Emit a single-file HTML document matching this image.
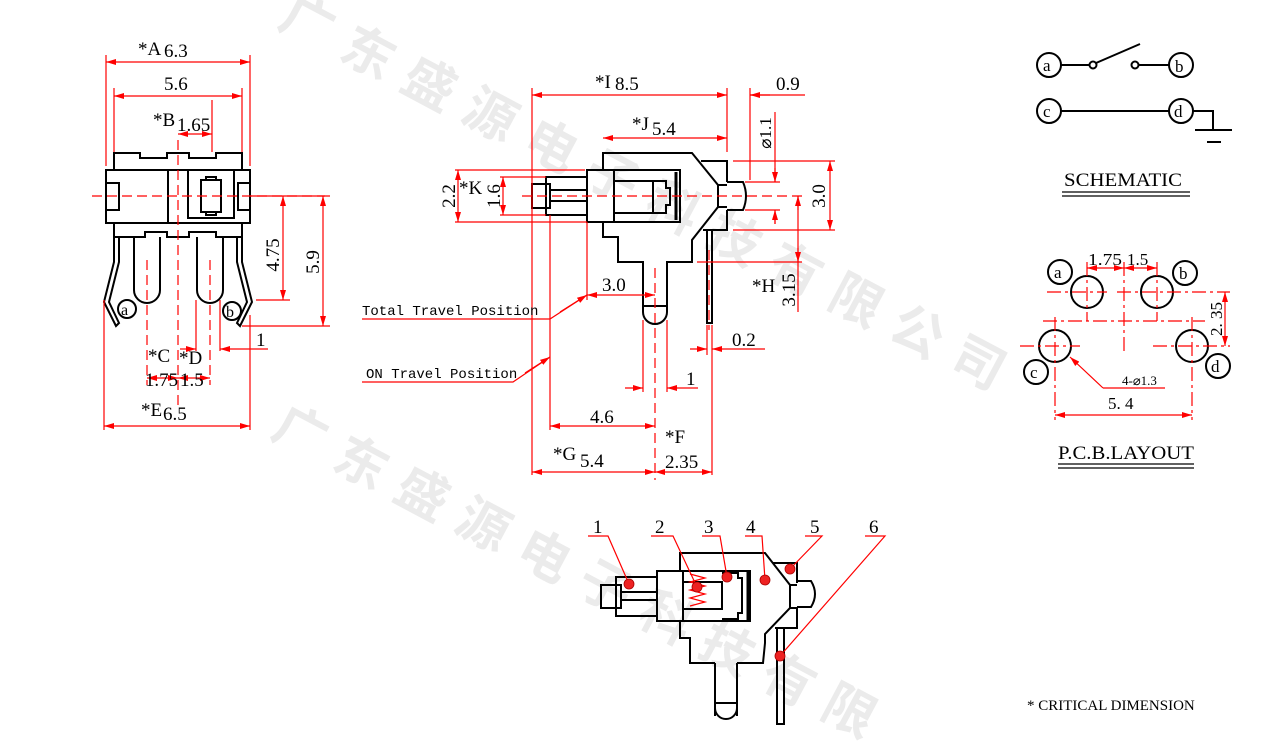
<!DOCTYPE html>
<html><head><meta charset="utf-8"><style>
html,body{margin:0;padding:0;background:#fff;width:1266px;height:744px;overflow:hidden;}
svg{display:block;}
.k{fill:none;stroke:#000;stroke-width:2;}
.r{fill:none;stroke:#f00;stroke-width:1.2;}
.dd{fill:none;stroke:#f00;stroke-width:1.2;stroke-dasharray:14 4 3 4;}
.ds{fill:none;stroke:#f00;stroke-width:1.2;stroke-dasharray:10 5;}
text{font-family:"Liberation Serif",serif;font-size:19px;fill:#000;}
.m{font-family:"Liberation Mono",monospace;font-size:14px;}
g.wm text{font-family:"Liberation Sans","Noto Sans CJK SC",sans-serif;font-size:52px;font-weight:bold;fill:#ebebeb;}
</style></head><body>
<svg width="1266" height="744" viewBox="0 0 1266 744" xmlns="http://www.w3.org/2000/svg">
<defs>
<marker id="a" viewBox="0 0 10 6" refX="10" refY="3" markerWidth="10" markerHeight="6" orient="auto-start-reverse" markerUnits="userSpaceOnUse"><path d="M0,0L10,3L0,6z" fill="#f00"/></marker>
</defs>
<g class="wm" text-anchor="middle">
<text transform="translate(299,38) rotate(28)">广</text>
<text transform="translate(360,69) rotate(28)">东</text>
<text transform="translate(421,100) rotate(28)">盛</text>
<text transform="translate(482,131) rotate(28)">源</text>
<text transform="translate(543,162) rotate(28)">电</text>
<text transform="translate(604,193) rotate(28)">子</text>
<text transform="translate(665,224) rotate(28)">科</text>
<text transform="translate(726,255) rotate(28)">技</text>
<text transform="translate(787,286) rotate(28)">有</text>
<text transform="translate(848,317) rotate(28)">限</text>
<text transform="translate(909,348) rotate(28)">公</text>
<text transform="translate(970,379) rotate(28)">司</text>
<text transform="translate(292,448) rotate(28)">广</text>
<text transform="translate(353,479) rotate(28)">东</text>
<text transform="translate(414,510) rotate(28)">盛</text>
<text transform="translate(475,541) rotate(28)">源</text>
<text transform="translate(536,572) rotate(28)">电</text>
<text transform="translate(597,603) rotate(28)">子</text>
<text transform="translate(658,634) rotate(28)">科</text>
<text transform="translate(719,665) rotate(28)">技</text>
<text transform="translate(780,696) rotate(28)">有</text>
<text transform="translate(841,727) rotate(28)">限</text>
</g>

<g class="k">
<path d="M114,170V153H140V158H167V153H189V158H216V153H242V170"/>
<rect x="106" y="170" width="144" height="53"/>
<path d="M168,170V223M106,183H119V210H106M250,183H238V210H250"/>
<rect x="188" y="170" width="46" height="48"/>
<rect x="201" y="180" width="20" height="32"/>
<path d="M206,180v-3h10v3M206,212v3h10v-3"/>
<path d="M114,223V237H145V232H167V237H189V232H216V237H242V223"/>
<path d="M134,237V290A13,13 0 0 0 160,290V237"/>
<path d="M197,237V290A13,13 0 0 0 223,290V237"/>
<path d="M114,237V262L104,302L116,326L119,323L109,302L119,262V237"/>
<path d="M242,237V262L252,302L240,326L237,323L247,302L237,262V237"/>
</g>
<circle cx="127" cy="309" r="9" class="k" stroke-width="1.5"/><text x="121" y="315" style="font-size:16px">a</text>
<circle cx="232" cy="311" r="9" class="k" stroke-width="1.5"/><text x="226" y="317" style="font-size:16px">b</text>
<path class="ds" d="M92,196H325M178,140V410M147,260V385M210,260V385"/>
<path class="r" d="M106,55V166M250,55V166M114,88V152M242,88V152M212,100V152M104,300V430M250,315V430"/>
<path class="r" marker-start="url(#a)" marker-end="url(#a)" d="M106,62H250"/>
<path class="r" marker-start="url(#a)" marker-end="url(#a)" d="M114,96H242"/>
<path class="r" marker-start="url(#a)" marker-end="url(#a)" d="M178,134H212"/>
<path class="r" d="M250,196H330M256,300H290M242,326H330"/>
<path class="r" marker-start="url(#a)" marker-end="url(#a)" d="M283,196V300"/>
<path class="r" marker-start="url(#a)" marker-end="url(#a)" d="M323,196V326"/>
<path class="r" d="M196,300V351M220,300V351"/>
<path class="r" marker-end="url(#a)" d="M180,349H196"/>
<path class="r" marker-end="url(#a)" d="M268,349H220"/>
<path class="r" marker-start="url(#a)" marker-end="url(#a)" d="M147,378H178"/>
<path class="r" marker-start="url(#a)" marker-end="url(#a)" d="M178,378H210"/>
<path class="r" marker-start="url(#a)" marker-end="url(#a)" d="M104,426H250"/>
<text x="138" y="55">*A</text><text x="164" y="57">6.3</text>
<text x="164" y="90">5.6</text>
<text x="153" y="126">*B</text><text x="177" y="131">1.65</text>
<text transform="translate(279,255) rotate(-90)" text-anchor="middle">4.75</text>
<text transform="translate(319,262) rotate(-90)" text-anchor="middle">5.9</text>
<text x="256" y="346">1</text>
<text x="148" y="362">*C</text><text x="179" y="364">*D</text>
<text x="145" y="386" textLength="33" lengthAdjust="spacingAndGlyphs">1.75</text><text x="180" y="386">1.5</text>
<text x="141" y="416">*E</text><text x="163" y="420">6.5</text>

<g class="k">
<path d="M603,170V153H692L718,185V207L692,240V262H667V310M643,310V262H618V237H603V222"/>
<path d="M643,306H667M643,306V312A12,12 0 0 0 667,312V306"/>
<path d="M701,161H727V182M727,210V230H703M718,185H727M718,207H727"/>
<path d="M727,182H743Q749,196 743,210H727"/>
<rect x="587" y="170" width="93" height="52"/>
<rect x="546" y="177" width="41" height="38"/>
<rect x="532" y="184" width="18" height="24"/>
<path d="M550,190H587M550,201H587M614,170V222M614,181H653V213H614M653,181H666V188H670V205H666V213H653"/>
<path d="M676,172V220" stroke-width="3"/>
<rect x="707" y="230" width="5" height="93"/>
</g>
<path class="ds" d="M522,196H805M655,268V480M709,250V330"/>
<path class="r" d="M532,88V475M550,215V430M587,222V300M643,320V392M667,320V392M707,325V355M712,325V475M727,88V152M750,88V180M455,170H585M455,222H587M500,177H546M500,215H546"/>
<path class="r" marker-start="url(#a)" marker-end="url(#a)" d="M532,95H727"/>
<path class="r" d="M750,95H805"/><path class="r" marker-end="url(#a)" d="M770,95H750"/>
<path class="r" marker-start="url(#a)" marker-end="url(#a)" d="M603,138H727"/>
<path class="r" marker-start="url(#a)" marker-end="url(#a)" d="M458,170V222"/>
<path class="r" marker-start="url(#a)" marker-end="url(#a)" d="M503,177V215"/>
<path class="r" d="M745,182H780M745,210H780M775,112V182"/>
<path class="r" marker-end="url(#a)" d="M775,168V182"/><path class="r" marker-end="url(#a)" d="M775,224V210"/><path class="r" d="M775,210V224"/>
<path class="r" d="M733,161H835M733,230H835M697,262H802"/>
<path class="r" marker-start="url(#a)" marker-end="url(#a)" d="M830,161V230"/>
<path class="r" d="M798,196V312"/><path class="r" marker-end="url(#a)" d="M798,210V196"/><path class="r" marker-end="url(#a)" d="M798,248V262"/>
<path class="r" marker-start="url(#a)" marker-end="url(#a)" d="M587,295H655"/>
<path class="r" d="M362,319H550L587,295"/><path class="r" marker-end="url(#a)" d="M560,312L587,295"/>
<path class="r" d="M362,382H513L550,357"/><path class="r" marker-end="url(#a)" d="M525,373L550,357"/>
<path class="r" marker-end="url(#a)" d="M625,388H643"/>
<path class="r" marker-end="url(#a)" d="M698,388H667"/>
<path class="r" marker-end="url(#a)" d="M690,349H707"/>
<path class="r" marker-end="url(#a)" d="M765,349H712"/>
<path class="r" marker-start="url(#a)" marker-end="url(#a)" d="M550,426H655"/>
<path class="r" marker-start="url(#a)" marker-end="url(#a)" d="M532,472H655"/>
<path class="r" marker-start="url(#a)" marker-end="url(#a)" d="M655,472H712"/>
<text x="595" y="88">*I</text><text x="615" y="90">8.5</text>
<text x="776" y="90">0.9</text>
<text x="632" y="130">*J</text><text x="652" y="135">5.4</text>
<text transform="translate(771,133) rotate(-90)" text-anchor="middle" style="font-size:17px">⌀1.1</text>
<text transform="translate(455,196) rotate(-90)" text-anchor="middle">2.2</text>
<text x="459" y="194">*K</text>
<text transform="translate(500,196) rotate(-90)" text-anchor="middle">1.6</text>
<text transform="translate(825,196) rotate(-90)" text-anchor="middle">3.0</text>
<text x="752" y="292">*H</text>
<text transform="translate(795,290) rotate(-90)" text-anchor="middle">3.15</text>
<text x="602" y="291">3.0</text>
<text x="686" y="385">1</text>
<text x="732" y="346">0.2</text>
<text x="590" y="423">4.6</text>
<text x="553" y="460">*G</text><text x="580" y="467">5.4</text>
<text x="665" y="443">*F</text><text x="665" y="468">2.35</text>
<text class="m" x="362" y="315">Total Travel Position</text>
<text class="m" x="366" y="378">ON Travel Position</text>

<g class="k">
<path d="M680,571V553H765L790,585V608L765,634V643L763,663H737M715,663V716M737,663V716"/>
<path d="M715,703H737M715,703V708A11,11 0 0 0 737,708V703"/>
<path d="M680,621V638H690V663H715"/>
<path d="M773,563H797V583M797,607V628H775M790,585H797M790,608H797"/>
<path d="M797,581H811Q819,594 811,607H797"/>
<rect x="657" y="571" width="93" height="50"/>
<rect x="616" y="577" width="41" height="39"/>
<rect x="601" y="585" width="20" height="23"/>
<path d="M621,592H657M621,600H657M683,571V621M683,582H722V609H683M722,573H738V578H742V613H738V619H722"/>
<path d="M748,572V620" stroke-width="3"/>
<rect x="777" y="628" width="7" height="96"/>
</g>
<path d="M690,574L705,578L690,582L705,586L690,590L705,594L690,598L705,602L690,606" fill="none" stroke="#f00" stroke-width="1.2"/>
<path class="r" d="M588,536H608L629,584M651,536H673L697,587M702,536H720L727,577M745,536H762L765,580M805,536H822L790,569M865,536H885L780,656"/>
<g fill="#e22" stroke="#a00" stroke-width="0.8">
<circle cx="629" cy="584" r="5"/><circle cx="697" cy="587" r="5"/><circle cx="727" cy="577" r="5"/><circle cx="765" cy="580" r="5"/><circle cx="790" cy="569" r="5"/><circle cx="780" cy="656" r="5"/>
</g>
<text x="593" y="533">1</text><text x="655" y="533">2</text><text x="704" y="533">3</text><text x="746" y="533">4</text><text x="810" y="533">5</text><text x="869" y="533">6</text>

<g class="k" stroke-width="1.6">
<circle cx="1049" cy="65" r="12"/><circle cx="1181" cy="65" r="12"/>
<circle cx="1049" cy="111" r="12"/><circle cx="1181" cy="111" r="12"/>
<circle cx="1093" cy="65" r="3.5"/><circle cx="1135" cy="65" r="3.5"/>
<path d="M1061,65H1089M1096,63L1140,44M1139,65H1169M1061,111H1169M1193,111H1213V130M1195,130H1232M1207,142H1221"/>
</g>
<text x="1043" y="71" style="font-size:17px">a</text><text x="1175" y="72" style="font-size:17px">b</text>
<text x="1043" y="117" style="font-size:17px">c</text><text x="1174" y="117" style="font-size:17px">d</text>
<text x="1064" y="186" textLength="118" lengthAdjust="spacingAndGlyphs">SCHEMATIC</text>
<path d="M1062,192H1190M1062,196H1190" stroke="#000" stroke-width="1.2"/>

<g class="k" stroke-width="1.6">
<circle cx="1087" cy="292" r="16"/><circle cx="1157" cy="292" r="16"/>
<circle cx="1055" cy="346" r="16"/><circle cx="1192" cy="346" r="16"/>
<circle cx="1060" cy="272" r="12"/><circle cx="1185" cy="273" r="12"/>
<circle cx="1036" cy="372" r="12"/><circle cx="1218" cy="366" r="12"/>
</g>
<text x="1054" y="278" style="font-size:17px">a</text><text x="1179" y="279" style="font-size:17px">b</text>
<text x="1030" y="378" style="font-size:17px">c</text><text x="1211" y="372" style="font-size:17px">d</text>
<path class="dd" d="M1047,292H1107M1117,292H1230M1043,321H1205M1020,346H1080M1153,346H1230M1087,262V321M1157,262V321M1124,262V352M1055,317V420M1192,317V420"/>
<path class="r" marker-start="url(#a)" marker-end="url(#a)" d="M1087,268H1124"/>
<path class="r" marker-start="url(#a)" marker-end="url(#a)" d="M1124,268H1157"/>
<path class="r" marker-start="url(#a)" marker-end="url(#a)" d="M1225,292V346"/>
<path class="r" marker-start="url(#a)" marker-end="url(#a)" d="M1055,415H1192"/>
<path class="r" d="M1103,388H1165"/><path class="r" marker-end="url(#a)" d="M1103,388L1070,357"/>
<text x="1088" y="265" style="font-size:17px" textLength="34" lengthAdjust="spacingAndGlyphs">1.75</text>
<text x="1127" y="265" style="font-size:17px">1.5</text>
<text transform="translate(1222,319) rotate(-90)" text-anchor="middle" style="font-size:17px">2. 35</text>
<text x="1108" y="409" style="font-size:17px">5. 4</text>
<text x="1122" y="385" style="font-size:13px">4-⌀1.3</text>
<text x="1058" y="459" textLength="136" lengthAdjust="spacingAndGlyphs">P.C.B.LAYOUT</text>
<path d="M1058,464H1194M1058,468H1194" stroke="#000" stroke-width="1.2"/>

<text x="1027" y="710" style="font-size:15px">* CRITICAL  DIMENSION</text>
</svg>
</body></html>
